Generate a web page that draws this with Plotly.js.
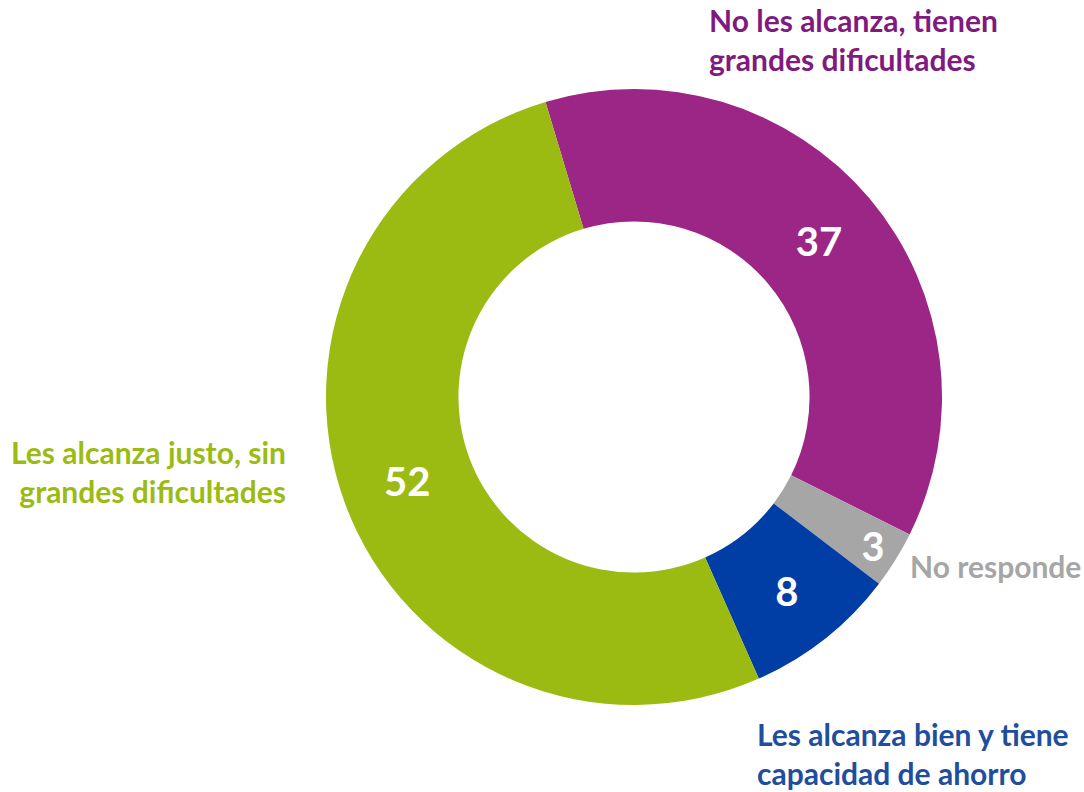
<!DOCTYPE html>
<html>
<head>
<meta charset="utf-8">
<script src="https://cdn.plot.ly/plotly-3.0.1.min.js"></script>
<style>html,body{margin:0;padding:0;background:#fff;}#chart{width:1084px;height:792px;}</style>
</head>
<body>
<div id="chart"></div>
<script>
const categories = [
  "No les alcanza, tienen grandes dificultades",
  "No responde",
  "Les alcanza bien y tiene capacidad de ahorro",
  "Les alcanza justo, sin grandes dificultades"
];
const values = [37, 3, 8, 52];
const sliceColors = ["#9B2686", "#A6A6A6", "#003DA5", "#9BBB12"];
const labelTexts = [
  "No les alcanza, tienen<br>grandes dificultades",
  "No responde",
  "Les alcanza bien y tiene<br>capacidad de ahorro",
  "Les alcanza justo, sin<br>grandes dificultades"
];
const labelColors = ["#7F1A7F", "#A6A6A6", "#1F4E9C", "#9BBB12"];

const FONT = "Lato, 'Open Sans', sans-serif";

const trace = {
  type: "pie",
  labels: categories,
  values: values,
  sort: false,
  direction: "clockwise",
  rotation: -16.7,
  hole: 0.57,
  marker: {colors: sliceColors, line: {width: 0}},
  textinfo: "value",
  textposition: "inside",
  insidetextorientation: "horizontal",
  insidetextfont: {family: FONT, size: 40, color: "#ffffff", weight: "bold"},
  showlegend: false,
  hoverinfo: "label+value",
  domain: {x: [(634 - 308) / 1084, (634 + 308) / 1084], y: [(395 - 308) / 792, (395 + 308) / 792]}
};

const annFont = (c) => ({family: FONT, size: 30, color: c, weight: "bold"});
const annotations = [
  {text: labelTexts[0], x: 707 / 1084, y: 1 - 40 / 792, xanchor: "left", yanchor: "middle", align: "left", font: annFont(labelColors[0])},
  {text: labelTexts[1], x: 908 / 1084, y: 1 - 566 / 792, xanchor: "left", yanchor: "middle", align: "left", font: annFont(labelColors[1])},
  {text: labelTexts[2], x: 755 / 1084, y: 1 - 753 / 792, xanchor: "left", yanchor: "middle", align: "left", font: annFont(labelColors[2])},
  {text: labelTexts[3], x: 288 / 1084, y: 1 - 471 / 792, xanchor: "right", yanchor: "middle", align: "right", font: annFont(labelColors[3])}
].map(a => Object.assign({xref: "paper", yref: "paper", showarrow: false}, a));

const layout = {
  width: 1084,
  height: 792,
  margin: {l: 0, r: 0, t: 0, b: 0},
  paper_bgcolor: "#ffffff",
  plot_bgcolor: "#ffffff",
  annotations: annotations
};

Plotly.newPlot("chart", [trace], layout, {displayModeBar: false, staticPlot: true});
</script>
</body>
</html>
